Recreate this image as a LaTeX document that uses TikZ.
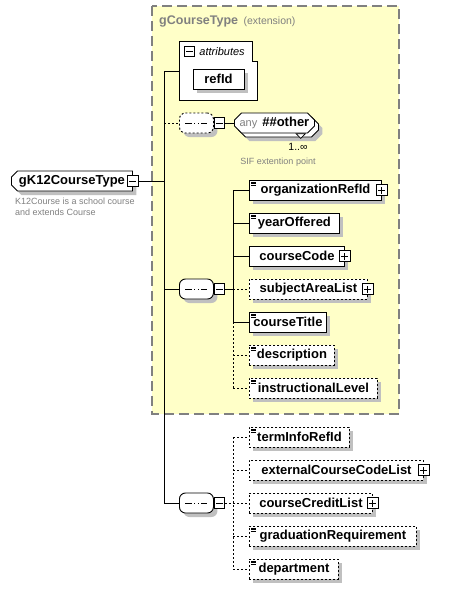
\documentclass[tikz,border=0pt]{standalone}
\usepackage{fontspec}
\setmainfont{Liberation Sans}
\usetikzlibrary{shapes.misc, shadows, positioning}

\definecolor{boxyellow}{HTML}{FFFFC8}
\definecolor{shadegray}{HTML}{C0C0C0}
\definecolor{labelgray}{HTML}{808080}

\tikzset{
  wire/.style={line width=0.9pt},
  optwire/.style={line width=0.9pt, dash pattern=on 2pt off 2pt},
  boxshadow/.style={general shadow={fill=shadegray, shadow xshift=4pt, shadow yshift=-4pt}},
  elem/.style={draw, fill=white, line width=0.9pt, boxshadow, anchor=west,
    minimum height=20pt, inner sep=0pt, font=\bfseries\fontsize{13}{15}\selectfont},
  optelem/.style={elem, dash pattern=on 2pt off 2pt},
  cutbox/.style={chamfered rectangle, chamfered rectangle xsep=#1, chamfered rectangle ysep=#1},
  simple/.style={path picture={
      \foreach \k in {1.8,3.6,5.4}
        \draw[solid, line width=0.6pt] ([shift={(2pt,-\k pt)}]path picture bounding box.north west) -- ++(5pt,0pt);}},
  pmbox/.style={draw, solid, fill=white, line width=1pt, minimum size=10.5pt, inner sep=0pt},
  plusbox/.style={pmbox, path picture={
      \draw[line width=0.9pt] (path picture bounding box.center) +(-3.5pt,0pt) -- +(3.5pt,0pt) +(0pt,-3.5pt) -- +(0pt,3.5pt);}},
  minusbox/.style={pmbox, path picture={
      \draw[line width=0.9pt] (path picture bounding box.center) +(-3.5pt,0pt) -- +(3.5pt,0pt);}},
  seqbox/.style={rectangle, rounded corners=6pt, draw, fill=white,
    line width=0.9pt, boxshadow, anchor=west, minimum width=34pt, minimum height=20pt, inner sep=0pt,
    path picture={
      \draw[solid, line width=0.9pt] (path picture bounding box.center) +(-11pt,0pt) -- +(11pt,0pt);
      \foreach \d in {-3.6,0,3.6}
        \fill[sharp corners] ([xshift=\d pt]path picture bounding box.center) +(-1.3pt,-1.3pt) rectangle +(1.3pt,1.3pt);}},
  note/.style={inner sep=0pt, anchor=west},
  extframe/.style={draw=labelgray, fill=boxyellow, line width=1.1pt, dash pattern=on 10pt off 5pt},
}

\begin{document}
\begin{tikzpicture}[x=1pt,y=-1pt]
\useasboundingbox (0,0) rectangle (450,589);

% extension frame
\draw[extframe] (152,6) rectangle (399,414);
\node[note, text=labelgray, font=\bfseries\fontsize{12.5}{15}\selectfont] (exttitle) at (159,21) {gCourseType};
\node[note, text=labelgray, font=\fontsize{10.5}{12}\selectfont, base right=5pt of exttitle] (extnote) {(extension)};

% root element
\node[elem, cutbox=3pt, chamfered rectangle corners={north west, south west},
      minimum width=121pt] (root) at (11,181) {gK12CourseType};
\node[minusbox] (rootm) at (root.east) {};
\node[note, text=labelgray, font=\fontsize{9}{10.5}\selectfont, align=left] (rootdoc) at (15,207)
  {K12Course is a school course\\and extends Course};
\coordinate (trunk) at (164,0);

% attributes
\draw[fill=white, line width=0.9pt] (179,41) -| (252,61) -| (257,100) -- (179,100) -- cycle;
\coordinate (attr) at (179,71);
\node[minusbox] (attrm) at (189.5,51.5) {};
\node[note, font=\itshape\fontsize{11}{13}\selectfont, right=4pt of attrm] (attrlbl) {attributes};
\node[elem, anchor=center, minimum width=51pt] (refid) at (218.5,79) {refId};

% any ##other
\node[seqbox, dash pattern=on 2pt off 2pt] (seqany) at (179,123) {};
\node[minusbox, right=0pt of seqany] (seqanym) {};
\node[elem, cutbox=3.5pt, minimum width=80pt,
      general shadow={fill=shadegray, shadow xshift=8pt, shadow yshift=-8pt},
      general shadow={fill=white, draw=black, line width=0.9pt, shadow xshift=4pt, shadow yshift=-4pt}]
      (anyo) at (234,123) {{\mdseries\color{labelgray}\fontsize{11}{13}\selectfont any}\hspace{5pt}\#\#other};
\draw[fill=white, line width=0.7pt] ([shift={(-15pt,-4pt)}]anyo.south east) -- ++(9pt,0pt) -- ++(-4.5pt,-4.5pt) -- cycle;
\node[font=\fontsize{10.5}{12}\selectfont, inner sep=0pt] (anyocc) at (298,147) {1..∞};
\node[font=\fontsize{9}{10.5}\selectfont, text=labelgray, inner sep=0pt] (anydoc) at (278,162) {SIF extention point};

% main sequence
\node[seqbox] (seqmain) at (179,289) {};
\node[minusbox, right=0pt of seqmain] (seqmainm) {};
\coordinate (bus) at (233,0);
\node[elem, simple, minimum width=132pt] (org) at (249,190) {organizationRefId};
\node[plusbox] (orgp) at (org.east) {};
\node[elem, simple, minimum width=90pt] (year) at (249,223) {yearOffered};
\node[elem, minimum width=95pt] (code) at (249,256) {courseCode};
\node[plusbox] (codep) at (code.east) {};
\node[optelem, minimum width=118pt] (subj) at (249,289) {subjectAreaList};
\node[plusbox] (subjp) at (subj.east) {};
\node[elem, simple, minimum width=77pt] (title) at (249,322) {courseTitle};
\node[optelem, simple, minimum width=85pt] (descr) at (249,355) {description};
\node[optelem, simple, minimum width=128pt] (level) at (249,388) {instructionalLevel};

% optional sequence
\node[seqbox] (seqopt) at (179,503) {};
\node[minusbox, right=0pt of seqopt] (seqoptm) {};
\node[optelem, simple, minimum width=100pt] (term) at (249,437) {termInfoRefId};
\node[optelem, minimum width=174pt] (extcode) at (249,470) {externalCourseCodeList};
\node[plusbox] (extcodep) at (extcode.east) {};
\node[optelem, minimum width=123pt] (credit) at (249,503) {courseCreditList};
\node[plusbox] (creditp) at (credit.east) {};
\node[optelem, simple, minimum width=167pt] (grad) at (249,536) {graduationRequirement};
\node[optelem, simple, minimum width=89pt] (dept) at (249,569) {department};

% trunk
\draw[wire] (rootm.east) -- (rootm.east -| trunk);
\draw[wire] (attr -| trunk) -- (seqopt.west -| trunk);
\draw[wire] (attr -| trunk) -- (attr);
\draw[optwire] (seqany.west -| trunk) -- (seqany.west);
\draw[wire] (seqanym.east) -- (anyo.west);
\draw[wire] (seqmain.west -| trunk) -- (seqmain.west);
\draw[wire] (seqopt.west -| trunk) -- (seqopt.west);

% main bus
\draw[wire] (seqmainm.east) -- (seqmainm.east -| bus);
\draw[wire] (org.west -| bus) -- (title.west -| bus);
\draw[optwire] (title.west -| bus) -- (level.west -| bus);
\draw[wire] (org.west -| bus) -- (org.west);
\draw[wire] (year.west -| bus) -- (year.west);
\draw[wire] (code.west -| bus) -- (code.west);
\draw[optwire] (subj.west -| bus) -- (subj.west);
\draw[wire] (title.west -| bus) -- (title.west);
\draw[optwire] (descr.west -| bus) -- (descr.west);
\draw[optwire] (level.west -| bus) -- (level.west);

% optional bus
\draw[optwire] (seqoptm.east) -- (seqoptm.east -| bus);
\draw[optwire] (term.west -| bus) -- (dept.west -| bus);
\draw[optwire] (term.west -| bus) -- (term.west);
\draw[optwire] (extcode.west -| bus) -- (extcode.west);
\draw[optwire] (credit.west -| bus) -- (credit.west);
\draw[optwire] (grad.west -| bus) -- (grad.west);
\draw[optwire] (dept.west -| bus) -- (dept.west);
\end{tikzpicture}
\end{document}
